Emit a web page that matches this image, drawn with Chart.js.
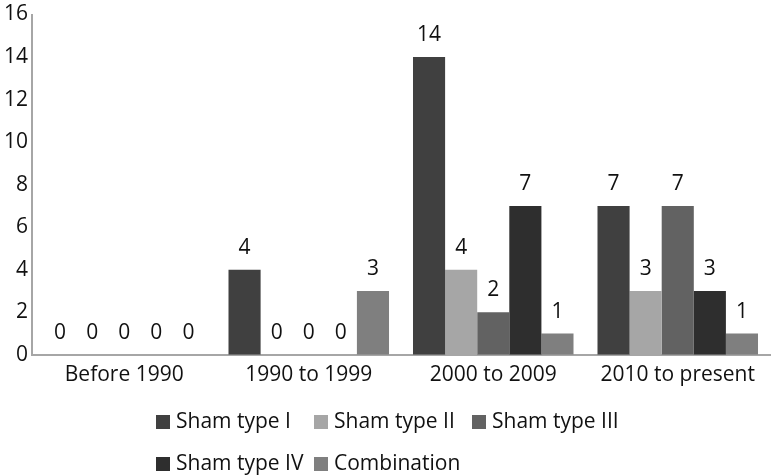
<!DOCTYPE html>
<html>
<head>
<meta charset="utf-8">
<script src="https://cdn.jsdelivr.net/npm/chart.js@4"></script>
<style>
    body { margin: 0; background: #fff; }
    #wrap { position: relative; width: 774px; height: 476px; }
    #legend {
        position: absolute; left: 156px; top: 399px;
        display: grid; grid-template-columns: repeat(3, 158px);
        font-family: "Open Sans", sans-serif; font-size: 21px; color: #111;
        line-height: 42px;
    }
    #legend span.box {
        display: inline-block; width: 14px; height: 14px;
        margin-right: 6px; vertical-align: -1px;
    }
</style>
</head>
<body>
<div id="wrap">
    <canvas id="periods" width="774" height="476"></canvas>
    <div id="legend"></div>
</div>
<script>
var PERIODS = ["Before 1990", "1990 to 1999", "2000 to 2009", "2010 to present"];
var SERIES = ["Sham type I", "Sham type II", "Sham type III", "Sham type IV", "Combination"];

var SHAM_1 = [0, 4, 14, 7];
var SHAM_2 = [0, 0, 4, 3];
var SHAM_3 = [0, 0, 2, 7];
var SHAM_4 = [0, 0, 7, 3];
var COMBINATION = [0, 3, 1, 1];

var Y_TICKS = [0, 2, 4, 6, 8, 10, 12, 14, 16];

var COLORS = ["#404040", "#a6a6a6", "#626262", "#2e2e2e", "#7f7f7f"];
var FONT = "'Open Sans', sans-serif";

const values = [SHAM_1, SHAM_2, SHAM_3, SHAM_4, COMBINATION];

const data = {
    labels: PERIODS,
    datasets: SERIES.map(function (name, i) {
        return {
            label: name,
            data: values[i],
            backgroundColor: COLORS[i],
            borderWidth: 0,
            categoryPercentage: 0.87,
            barPercentage: 1.0,
        };
    }),
};

// value labels above each bar
const barValues = {
    id: "barValues",
    afterDatasetsDraw(chart) {
        const ctx = chart.ctx;
        ctx.save();
        ctx.font = "21px " + FONT;
        ctx.fillStyle = "#111";
        ctx.textAlign = "center";
        ctx.textBaseline = "middle";
        chart.data.datasets.forEach(function (ds, i) {
            const meta = chart.getDatasetMeta(i);
            meta.data.forEach(function (bar, j) {
                ctx.fillText(String(ds.data[j]), bar.x, bar.y - 22);
            });
        });
        ctx.restore();
    },
};

const config = {
    type: "bar",
    data: data,
    options: {
        animation: false,
        responsive: false,
        layout: {
            autoPadding: false,
            padding: { left: 0, right: 4, top: 4, bottom: 80 },
        },
        plugins: {
            legend: { display: false },
            tooltip: { enabled: false },
        },
        scales: {
            x: {
                grid: { display: false, drawTicks: false },
                border: { display: true, color: "#a6a6a6", width: 2 },
                ticks: {
                    color: "#111",
                    padding: 8,
                    font: { family: FONT, size: 21 },
                },
            },
            y: {
                min: 0,
                max: 16,
                afterBuildTicks: function (axis) {
                    axis.ticks = Y_TICKS.map(function (v) { return { value: v }; });
                },
                grid: { display: false, drawTicks: false },
                border: { display: true, color: "#a6a6a6", width: 2 },
                ticks: {
                    color: "#111",
                    padding: 4,
                    font: { family: FONT, size: 21, lineHeight: 1.0 },
                },
            },
        },
    },
    plugins: [barValues],
};

function drawLegend() {
    const box = document.getElementById("legend");
    SERIES.forEach(function (name, i) {
        const item = document.createElement("div");
        item.innerHTML = '<span class="box" style="background:' + COLORS[i] + '"></span>' + name;
        box.appendChild(item);
    });
}

function drawCanvas() {
    const ctx = document.getElementById("periods");
    new Chart(ctx, config);
    drawLegend();
}

drawCanvas();
</script>
</body>
</html>
